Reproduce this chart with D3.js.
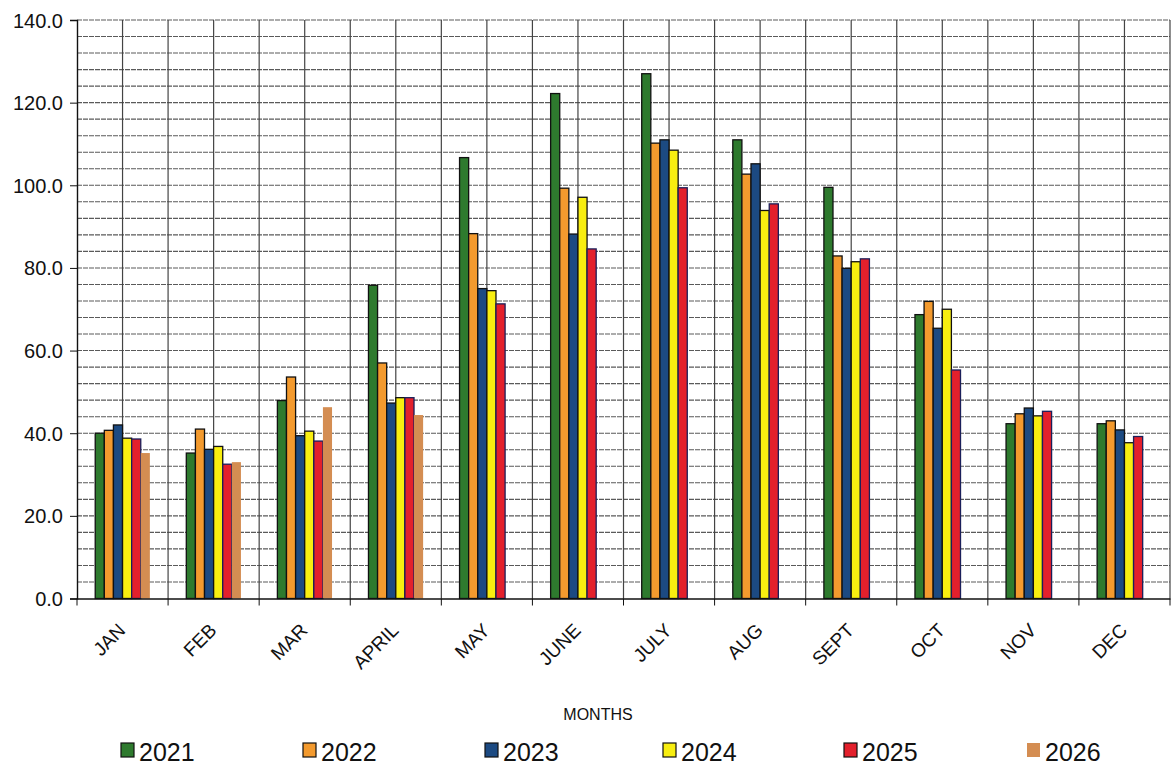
<!DOCTYPE html>
<html>
<head>
<meta charset="utf-8">
<script src="https://cdn.jsdelivr.net/npm/d3@7"></script>
<style>
  body { margin: 0; background: #fff; }
  text { font-family: "Liberation Sans", Arial, sans-serif; fill: #111; }
</style>
</head>
<body>
<div id="chart-area"></div>
<script>
// chart data
var months = ["JAN", "FEB", "MAR", "APRIL", "MAY", "JUNE", "JULY", "AUG", "SEPT", "OCT", "NOV", "DEC"];
var years = ["2021", "2022", "2023", "2024", "2025", "2026"];
var yearColors = ["#2e7a2e", "#f39a2e", "#1c4a82", "#f8ee10", "#e3202c", "#d48d52"];

var v2021 = [40.0, 35.2, 47.9, 75.8, 106.7, 122.2, 127.0, 111.0, 99.5, 68.7, 42.3, 42.3];
var v2022 = [40.7, 41.0, 53.6, 57.0, 88.3, 99.3, 110.2, 102.7, 82.9, 71.9, 44.7, 43.0];
var v2023 = [42.0, 36.1, 39.4, 47.3, 75.0, 88.2, 111.0, 105.2, 79.9, 65.4, 46.1, 40.8];
var v2024 = [38.8, 36.8, 40.5, 48.6, 74.5, 97.1, 108.5, 93.9, 81.5, 70.0, 44.2, 37.7];
var v2025 = [38.6, 32.5, 38.1, 48.6, 71.3, 84.6, 99.4, 95.5, 82.2, 55.3, 45.3, 39.2];
var v2026 = [35.2, 33.0, 46.3, 44.4];

var yTicks = [0, 20, 40, 60, 80, 100, 120, 140];

var series = [v2021, v2022, v2023, v2024, v2025, v2026];

var margin = { left: 77, top: 20, right: 6, bottom: 184.5 };
var width = 1176 - margin.left - margin.right;
var height = 783 - margin.top - margin.bottom;

var svg = d3.select("#chart-area")
    .append("svg")
    .attr("width", 1176)
    .attr("height", 783);

var g = svg.append("g")
    .attr("transform", "translate(" + margin.left + "," + margin.top + ")");

var x = d3.scaleBand()
    .domain(months)
    .range([0, width]);

// 6 slots per month, 2026 slot stays empty where there is no value
var x1 = d3.scaleBand()
    .domain(years)
    .range([0, x.bandwidth()])
    .paddingOuter(2)
    .paddingInner(0);

var y = d3.scaleLinear()
    .domain([0, 140])
    .range([height, 0]);

// horizontal grid every 4 units
g.append("g")
    .selectAll("line")
    .data(d3.range(4, 141, 4))
    .enter().append("line")
    .attr("x1", 0)
    .attr("x2", width)
    .attr("y1", d => y(d))
    .attr("y2", d => y(d))
    .attr("stroke", "#5a5a5a")
    .attr("stroke-width", 1.1)
    .attr("stroke-dasharray", "5,1");

// vertical grid: month boundaries and month centres
var vGrid = [];
months.forEach(m => {
    vGrid.push(x(m) + x.bandwidth() / 2);
    vGrid.push(x(m) + x.bandwidth());
});
g.append("g")
    .selectAll("line")
    .data(vGrid)
    .enter().append("line")
    .attr("x1", d => d)
    .attr("x2", d => d)
    .attr("y1", 0)
    .attr("y2", height)
    .attr("stroke", "#444")
    .attr("stroke-width", 1.2);

// bars
years.forEach((yr, i) => {
    var vals = series[i];
    g.append("g")
        .selectAll("rect")
        .data(vals)
        .enter().append("rect")
        .attr("x", (d, j) => x(months[j]) + x1(yr))
        .attr("y", d => y(d))
        .attr("width", x1.bandwidth())
        .attr("height", d => height - y(d))
        .attr("fill", yearColors[i])
        .attr("stroke", yr == "2026" ? "none" : (yr == "2025" ? "#1a1f5a" : "#111"))
        .attr("stroke-width", 1.3);
});

// y axis
var yAxisCall = d3.axisLeft(y)
    .tickValues(yTicks)
    .tickSize(7)
    .tickFormat(d3.format(".1f"));
var yAxis = g.append("g")
    .attr("class", "y axis")
    .call(yAxisCall);
yAxis.select(".domain").attr("stroke", "#111").attr("stroke-width", 1.4);
yAxis.selectAll("line").attr("stroke", "#111");
yAxis.selectAll("text")
    .attr("x", -14)
    .attr("dy", "0.35em")
    .style("font-size", "20px");

// x axis
var xAxisCall = d3.axisBottom(x).tickSize(0).tickFormat("");
var xAxis = g.append("g")
    .attr("class", "x axis")
    .attr("transform", "translate(0," + height + ")")
    .call(xAxisCall);
xAxis.select(".domain").attr("stroke", "#111").attr("stroke-width", 1.4);

// ticks at month boundaries
xAxis.selectAll(".bound")
    .data(months)
    .enter().append("line")
    .attr("x1", d => x(d) + x.bandwidth())
    .attr("x2", d => x(d) + x.bandwidth())
    .attr("y1", 0)
    .attr("y2", 7)
    .attr("stroke", "#111");
xAxis.append("line")
    .attr("x1", 0).attr("x2", 0)
    .attr("y1", 0).attr("y2", 7)
    .attr("stroke", "#111");

// month labels
xAxis.selectAll(".mlabel")
    .data(months)
    .enter().append("text")
    .attr("class", "mlabel")
    .attr("text-anchor", "end")
    .attr("transform", d => "translate(" + (x(d) + x.bandwidth() / 2 + 4) + ",33) rotate(-45)")
    .style("font-size", "19px")
    .text(d => d);

// x label
svg.append("text")
    .attr("x", 598)
    .attr("y", 720)
    .attr("text-anchor", "middle")
    .style("font-size", "16px")
    .text("MONTHS");

// legend
var legendX = [121, 303, 485, 663, 844, 1027];
var legend = svg.append("g");
years.forEach((yr, i) => {
    var lg = legend.append("g")
        .attr("transform", "translate(" + legendX[i] + ",743)");
    lg.append("rect")
        .attr("x", 0)
        .attr("y", 0)
        .attr("width", 13)
        .attr("height", 14)
        .attr("fill", yearColors[i])
        .attr("stroke", yr == "2026" ? "none" : "#111")
        .attr("stroke-width", 1.2);
    lg.append("text")
        .attr("x", 18)
        .attr("y", 18)
        .style("font-size", "25px")
        .text(yr);
});
</script>
</body>
</html>
